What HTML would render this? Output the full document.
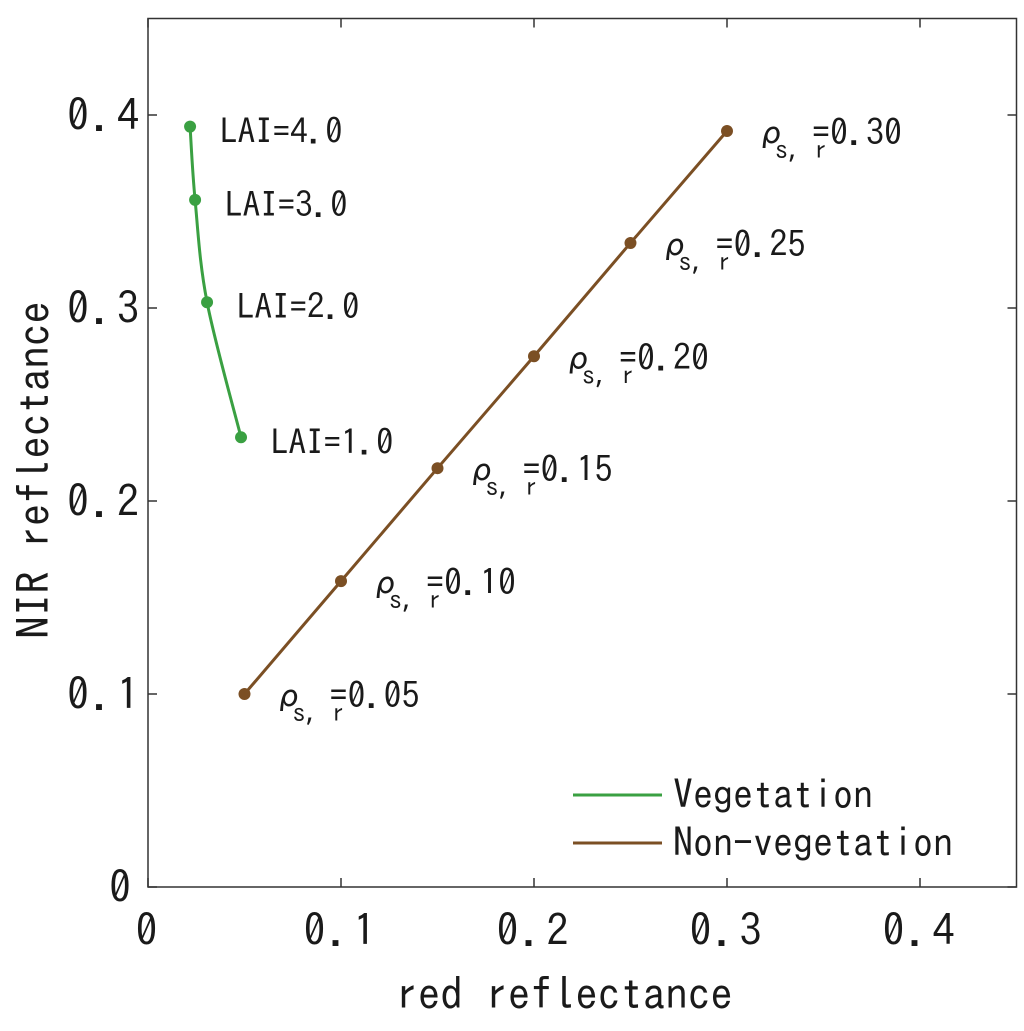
<!DOCTYPE html>
<html><head><meta charset="utf-8"><style>
html,body{margin:0;padding:0;background:#fff;}
svg{display:block;}
text{font-family:"IPAGothic","Liberation Sans",sans-serif;fill:#1a1a1a;}
</style></head><body>
<svg id="chart" width="1024" height="1031" viewBox="0 0 1024 1031">
<rect x="0" y="0" width="1024" height="1031" fill="#fff"/>
<g id="axes"></g><g id="marks"></g><g id="labels"></g>
<g>
<line x1="573" y1="795" x2="662" y2="795" stroke="#3aa042" stroke-width="3"/>
<text x="673" y="809" font-size="40">Vegetation</text>
<line x1="573" y1="843" x2="662" y2="843" stroke="#7b4f24" stroke-width="3"/>
<text x="673" y="857" font-size="40">Non-vegetation</text>
</g>
<text x="564" y="1010" font-size="45" text-anchor="middle">red reflectance</text>
<text transform="translate(50,470) rotate(-90)" font-size="45" text-anchor="middle">NIR reflectance</text>
</svg>
<script>
const xTicks=[0,0.1,0.2,0.3,0.4];
const yTicks=[0,0.1,0.2,0.3,0.4];
const vegRed=[0.0218,0.0244,0.0306,0.0482];
const vegNir=[0.394,0.356,0.303,0.233];
const vegLabels=["LAI=4.0","LAI=3.0","LAI=2.0","LAI=1.0"];
const soilRed=[0.05,0.10,0.15,0.20,0.25,0.30];
const soilNir=[0.100,0.1585,0.217,0.275,0.3337,0.3917];
const soilLabels=["0.05","0.10","0.15","0.20","0.25","0.30"];
const L=148,R=1016.5,T=18.5,B=887,XMAX=0.45,YMAX=0.45;
const sx=v=>L+(R-L)*v/XMAX, sy=v=>B-(B-T)*v/YMAX;
const NS="http://www.w3.org/2000/svg";
function mk(tag,attrs,parent,txt){const e=document.createElementNS(NS,tag);for(const k in attrs)e.setAttribute(k,attrs[k]);if(txt!==undefined)e.textContent=txt;parent.appendChild(e);return e;}
const axes=document.getElementById('axes'),marks=document.getElementById('marks'),labels=document.getElementById('labels');
const frame=mk('rect',{x:L,y:T,width:R-L,height:B-T,fill:'none',stroke:'#333',"stroke-width":1.5},axes);


xTicks.forEach(v=>{const x=sx(v);
 mk('line',{x1:x,y1:B,x2:x,y2:B-9,stroke:'#333','stroke-width':1.5},axes);
 mk('line',{x1:x,y1:T,x2:x,y2:T+9,stroke:'#333','stroke-width':1.5},axes);
 const t=mk('text',{x:x,y:946,'font-size':44,'letter-spacing':3,'text-anchor':'middle'},axes,v===0?"0":v.toFixed(1));
 
 });
yTicks.forEach(v=>{const y=sy(v);
 mk('line',{x1:L,y1:y,x2:L+9,y2:y,stroke:'#333','stroke-width':1.5},axes);
 mk('line',{x1:R,y1:y,x2:R-9,y2:y,stroke:'#333','stroke-width':1.5},axes);
 const t=mk('text',{x:v===0?134:142,y:y+16,'font-size':44,'letter-spacing':3,'text-anchor':'end'},axes,v===0?"0":v.toFixed(1));
 
 });
const vp=vegRed.map((r,i)=>[sx(r),sy(vegNir[i])]);
let d=`M${vp[0][0]},${vp[0][1]}`;
for(let i=0;i<vp.length-1;i++){const p0=vp[Math.max(i-1,0)],p1=vp[i],p2=vp[i+1],p3=vp[Math.min(i+2,vp.length-1)];
 d+=` C${p1[0]+(p2[0]-p0[0])/6},${p1[1]+(p2[1]-p0[1])/6} ${p2[0]-(p3[0]-p1[0])/6},${p2[1]-(p3[1]-p1[1])/6} ${p2[0]},${p2[1]}`;}
const vl=mk('path',{d:d,fill:'none',stroke:'#3aa042','stroke-width':3},marks);


vp.forEach((p,i)=>{const c=mk('circle',{cx:p[0],cy:p[1],r:6,fill:'#3aa042'},marks);
 
 
 const t=mk('text',{x:p[0]+30,y:p[1]+17,'font-size':35},labels,vegLabels[i]);
 
 });
const sp=soilRed.map((r,i)=>[sx(r),sy(soilNir[i])]);
const sl=mk('polyline',{points:sp.map(p=>p.join(',')).join(' '),fill:'none',stroke:'#7b4f24','stroke-width':3},marks);


sp.forEach((p,i)=>{const c=mk('circle',{cx:p[0],cy:p[1],r:6,fill:'#7b4f24'},marks);
 
 
 const g=mk('g',{},labels);
 
 
 mk('text',{x:p[0]+28,y:p[1]+14,'font-size':34,'font-family':'DejaVu Sans, sans-serif'},g,'ρ');
 mk('text',{x:p[0]+48,y:p[1]+28,'font-size':26},g,'s, r');
 mk('text',{x:p[0]+85,y:p[1]+14,'font-size':36},g,'=0.'+soilLabels[i].slice(2));});
</script>
</body></html>
